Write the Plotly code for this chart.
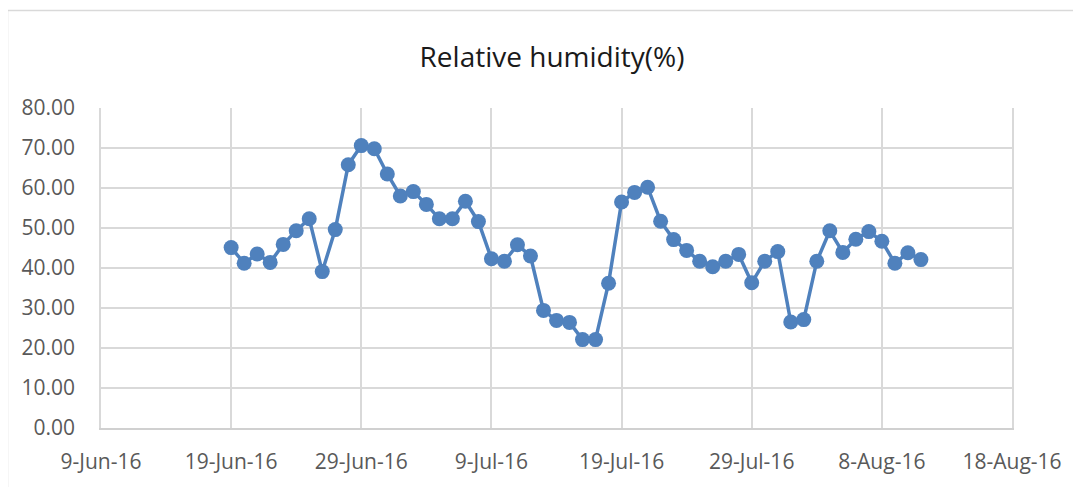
import plotly.graph_objects as go
import pandas as pd

start_date = "2016-06-19"
humidity = [
    45.1, 41.2, 43.5, 41.4, 45.9, 49.3, 52.3, 39.1, 49.6, 65.8, 70.6, 69.8,
    63.5, 58.0, 59.1, 55.9, 52.3, 52.3, 56.7, 51.6, 42.3, 41.7, 45.8, 43.0,
    29.4, 26.9, 26.4, 22.1, 22.1, 36.2, 56.5, 58.9, 60.2, 51.7, 47.1, 44.4,
    41.7, 40.3, 41.7, 43.4, 36.3, 41.7, 44.1,
    26.5, 27.1, 41.7, 49.3, 43.9, 47.2, 49.1, 46.7, 41.2, 43.8, 42.1,
]
dates = pd.date_range(start_date, periods=len(humidity), freq="D")

tick_dates = pd.date_range("2016-06-09", "2016-08-18", freq="10D")
tick_labels = [f"{d.day}-{d.strftime('%b')}-16" for d in tick_dates]
y_ticks = [0, 10, 20, 30, 40, 50, 60, 70, 80]
y_labels = [f"{v:.2f}" for v in y_ticks]

blue = "#4F81BD"
fig = go.Figure()
fig.add_trace(go.Scatter(
    x=dates, y=humidity, mode="lines+markers",
    line=dict(color=blue, width=3.5),
    marker=dict(color=blue, size=15),
    showlegend=False,
))

# page body has an 8px margin: figure is placed at (8, 8)
OFF = 8
W, H = 1081 - OFF, 487 - OFF
L, T = 101 - OFF, 108 - OFF
pw, ph = 911, 323
R, B = W - L - pw, H - T - ph

fig.update_layout(
    width=W, height=H,
    margin=dict(l=L, r=R, t=T, b=B),
    paper_bgcolor="white", plot_bgcolor="white",
    font=dict(family="Open Sans", color="#595959", size=21),
    title=dict(text="Relative humidity(%)", x=(552 - OFF) / W,
               xanchor="center", y=1 - (57 - OFF) / H, yanchor="middle",
               font=dict(family="Open Sans", size=28, color="#1a1a1a")),
    xaxis=dict(
        range=[tick_dates[0], tick_dates[-1]],
        tickvals=tick_dates, ticktext=tick_labels,
        showgrid=True, gridcolor="#D9D9D9", gridwidth=1.5,
        showline=True, linecolor="#D0D0D0", linewidth=1.5,
        ticks="", zeroline=False, ticklabelstandoff=14,
    ),
    yaxis=dict(
        range=[0, 80], tickvals=y_ticks, ticktext=y_labels,
        showgrid=True, gridcolor="#D9D9D9", gridwidth=1.5,
        showline=True, linecolor="#D9D9D9", linewidth=1.5, mirror=True,
        ticks="", zeroline=False, ticklabelstandoff=20,
    ),
    shapes=[
        dict(type="line", xref="paper", yref="paper",
             x0=(7.5 - 101) / pw, x1=(1090 - 101) / pw,
             y0=(431 - 9.5) / ph, y1=(431 - 9.5) / ph,
             line=dict(color="#D9D9D9", width=1.5)),
        dict(type="line", xref="paper", yref="paper",
             x0=(7.5 - 101) / pw, x1=(7.5 - 101) / pw,
             y0=(431 - 9.5) / ph, y1=(431 - 500) / ph,
             line=dict(color="#D9D9D9", width=1.5)),
    ],
)

fig.write_html("out.html")
